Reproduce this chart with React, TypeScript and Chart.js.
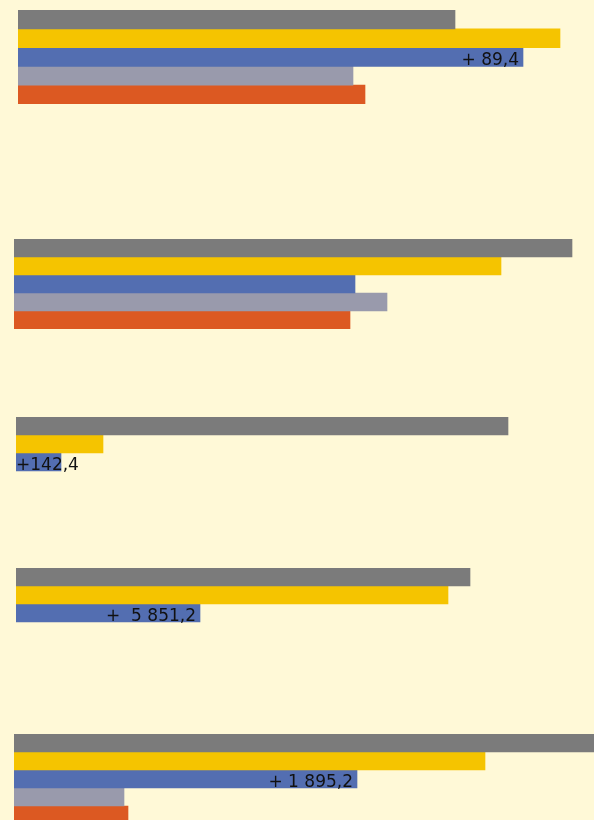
import React, { useEffect, useRef } from "react";
import { Chart, registerables } from "chart.js";

Chart.register(...registerables);

// ---- data ----
const groups = ["Group 1", "Group 2", "Group 3", "Group 4", "Group 5"];
const seriesNames = ["Series 1", "Series 2", "Series 3", "Series 4", "Series 5"];
const grayValues: (number | null)[] = [437, 558, 492, 454, 600];
const yellowValues: (number | null)[] = [542, 487, 87, 432, 471];
const blueValues: (number | null)[] = [505, 341, 45, 184, 343];
const lilacValues: (number | null)[] = [335, 373, null, null, 110];
const orangeValues: (number | null)[] = [347, 336, null, null, 114];
const blueLabels = ["+ 89,4", "", "+142,4", "+  5 851,2", "+ 1 895,2"];

// ---- styles / layout ----
const BG = "#FFF9D7";
const COLORS = ["#7B7B7B", "#F5C400", "#536EB1", "#999AAC", "#DC5922"];
const PAGE_W = 594;
const PAGE_H = 820;
const groupTops = [10, 239, 417, 568, 734];
const groupHeights = [94, 90, 90, 90, 90];
const groupLefts = [18, 14, 16, 16, 14];
const LABEL_FONT = '17px "DejaVu Sans"';

const labelPlugin = {
  id: "blueLabel",
  afterDatasetsDraw(chart: any, _args: any, opts: any) {
    const text: string = opts.text;
    if (!text) return;
    const meta = chart.getDatasetMeta(2);
    const el: any = meta.data[0];
    if (!el) return;
    const ctx = chart.ctx;
    ctx.save();
    ctx.font = LABEL_FONT;
    ctx.fillStyle = "#111111";
    ctx.textBaseline = "alphabetic";
    const w = ctx.measureText(text).width;
    const barW = Math.abs(el.x - el.base);
    const y = el.y + el.height / 2 - 1.5;
    if (w + 6 <= barW) {
      ctx.textAlign = "right";
      ctx.fillText(text, el.x - 4, y);
    } else {
      ctx.textAlign = "left";
      ctx.fillText(text, el.base, y);
    }
    ctx.restore();
  },
};

function GroupChart({ index }: { index: number }) {
  const ref = useRef<HTMLCanvasElement | null>(null);
  const left = groupLefts[index];
  const width = PAGE_W - left;
  useEffect(() => {
    if (!ref.current) return;
    const all = [grayValues, yellowValues, blueValues, lilacValues, orangeValues];
    const chart = new Chart(ref.current, {
      type: "bar",
      data: {
        labels: [groups[index]],
        datasets: all.map((vals, k) => ({
          label: seriesNames[k],
          data: [vals[index]],
          backgroundColor: COLORS[k],
          borderWidth: 0,
          barPercentage: 1,
          categoryPercentage: 1,
        })),
      },
      options: {
        indexAxis: "y",
        animation: false,
        responsive: true,
        maintainAspectRatio: false,
        layout: { padding: 0 },
        events: [],
        plugins: {
          legend: { display: false },
          tooltip: { enabled: false },
          title: { display: false },
          blueLabel: { text: blueLabels[index] },
        } as any,
        scales: {
          x: { display: false, min: 0, max: width, grid: { display: false } },
          y: { display: false, grid: { display: false } },
        },
      },
      plugins: [labelPlugin],
    });
    return () => chart.destroy();
  }, [index, width]);
  return (
    <div
      style={{
        position: "absolute",
        top: groupTops[index],
        left,
        width,
        height: groupHeights[index],
      }}
    >
      <canvas ref={ref} />
    </div>
  );
}

export default function App() {
  useEffect(() => {
    document.body.style.margin = "0";
    document.body.style.background = BG;
  }, []);
  return (
    <div
      style={{
        position: "fixed",
        left: 0,
        top: 0,
        width: PAGE_W,
        height: PAGE_H,
        background: BG,
        overflow: "hidden",
      }}
    >
      {groups.map((_, i) => (
        <GroupChart key={i} index={i} />
      ))}
    </div>
  );
}
